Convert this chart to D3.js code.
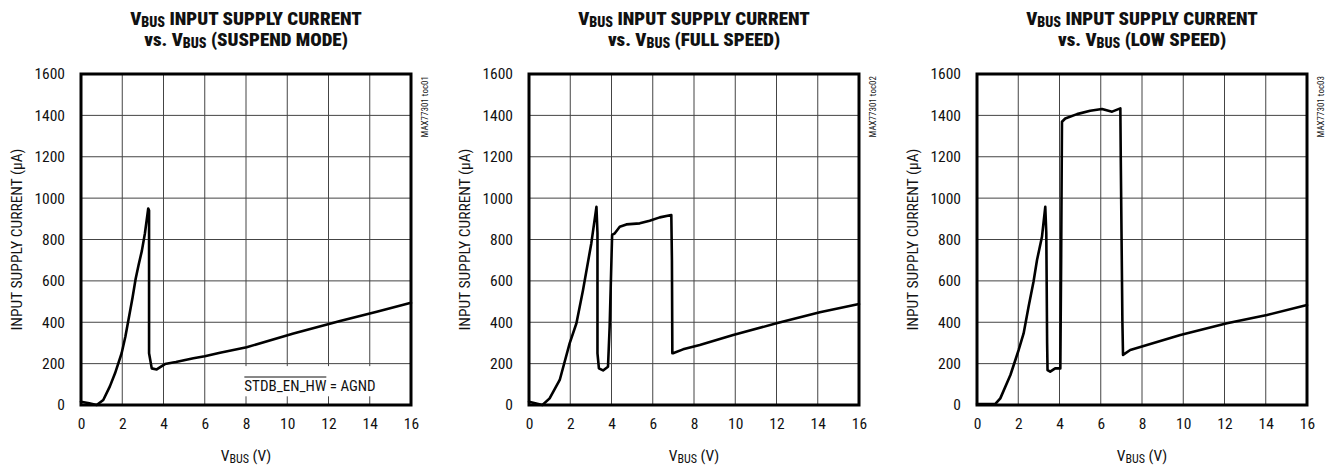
<!DOCTYPE html>
<html>
<head>
<meta charset="utf-8">
<script src="https://cdn.jsdelivr.net/npm/d3@7"></script>
<style>
  body { margin: 0; background: #fff; }
  svg text { font-family: "Liberation Sans Narrow", "Arial Narrow", "Roboto Condensed", "DejaVu Sans Condensed", sans-serif; fill: #111; }
</style>
</head>
<body>
<svg width="1328" height="466"></svg>
<script>
// data, [VBUS (V), current (uA)]
var suspendCurve = [[0,16],[0.4,8],[0.76,0],[1.08,24],[1.4,90],[1.65,153],[1.97,250],[2.15,330],[2.3,411],
  [2.5,520],[2.65,610],[2.8,680],[2.95,745],[3.1,830],[3.22,920],[3.26,950],[3.3,940],[3.3,250],[3.43,177],
  [3.67,172],[4.07,198],[4.6,208],[5.45,226],[6.0,236],[6.74,253],[8.03,279],[10.3,346],[12.56,406],
  [14.34,451],[16,494]];

var fullCurve = [[0,16],[0.65,0],[1.0,32],[1.49,121],[1.97,298],[2.3,395],[2.62,556],[3.02,781],[3.27,958],
  [3.32,830],[3.32,250],[3.39,177],[3.59,167],[3.83,185],[3.91,378],[4.03,822],[4.16,830],[4.4,862],[4.72,873],
  [5.37,878],[5.85,891],[6.34,907],[6.9,918],[6.93,700],[6.95,250],[6.98,250],[7.47,269],[8.28,290],[9.9,338],
  [12.0,395],[14.1,448],[16,488]];

var lowCurve = [[0,5],[0.89,5],[1.13,32],[1.62,145],[2.02,266],[2.26,346],[2.5,475],[2.74,596],[2.91,701],
  [3.15,813],[3.31,958],[3.36,830],[3.4,300],[3.42,169],[3.55,161],[3.79,177],[4.04,177],[4.08,700],[4.12,1369],
  [4.28,1385],[4.85,1406],[5.49,1422],[6.06,1431],[6.55,1418],[6.95,1434],[6.97,1200],[7.05,400],[7.08,242],
  [7.43,266],[8.24,290],[9.86,338],[12.12,395],[14.06,435],[16,483]];

var xTicks = [0,2,4,6,8,10,12,14,16];
var yTicks = [0,200,400,600,800,1000,1200,1400,1600];
var modes = ["SUSPEND MODE", "FULL SPEED", "LOW SPEED"];
var tocs = ["MAX77301 toc01", "MAX77301 toc02", "MAX77301 toc03"];
var curves = [suspendCurve, fullCurve, lowCurve];

var svg = d3.select("svg");
var pw = 330, ph = 331, plotTop = 74;
var lefts = [81, 529, 977];

curves.forEach(function(curve, i) {
  var left = lefts[i];
  var x = d3.scaleLinear().domain([0, 16]).range([left, left + pw]);
  var y = d3.scaleLinear().domain([0, 1600]).range([plotTop + ph, plotTop]);
  var g = svg.append("g");

  // grid
  g.append("g").selectAll("line").data(xTicks.slice(1, -1)).enter().append("line")
    .attr("x1", function(d) { return x(d); }).attr("x2", function(d) { return x(d); })
    .attr("y1", plotTop).attr("y2", plotTop + ph)
    .attr("stroke", "#444").attr("stroke-width", 1);
  g.append("g").selectAll("line").data(yTicks.slice(1, -1)).enter().append("line")
    .attr("y1", function(d) { return y(d); }).attr("y2", function(d) { return y(d); })
    .attr("x1", left).attr("x2", left + pw)
    .attr("stroke", "#444").attr("stroke-width", 1);

  // annotation on first chart, white box knocks out the grid
  if (i == 0) {
    g.append("rect")
      .attr("x", x(7.6)).attr("y", y(188))
      .attr("width", x(15.85) - x(7.6)).attr("height", y(42) - y(188))
      .attr("fill", "#fff");
    var ann = g.append("text").attr("x", x(7.92)).attr("y", 391).style("font-size", "15px");
    ann.append("tspan").text("STDB_EN_HW");
    ann.append("tspan").text(" = AGND");
    var w = ann.select("tspan").node().getComputedTextLength();
    g.append("line")
      .attr("x1", x(7.92)).attr("x2", x(7.92) + w)
      .attr("y1", 377).attr("y2", 377)
      .attr("stroke", "#111").attr("stroke-width", 1);
  }

  // curve
  var line = d3.line().x(function(d) { return x(d[0]); }).y(function(d) { return y(d[1]); });
  g.append("path").datum(curve).attr("d", line)
    .attr("fill", "none").attr("stroke", "#000").attr("stroke-width", 2.6)
    .attr("stroke-linejoin", "round").attr("stroke-linecap", "round");

  // frame
  g.append("rect").attr("x", left).attr("y", plotTop).attr("width", pw).attr("height", ph)
    .attr("fill", "none").attr("stroke", "#000").attr("stroke-width", 3);

  // axes (labels only)
  var xa = g.append("g").attr("transform", "translate(0," + (plotTop + ph + 10) + ")")
    .call(d3.axisBottom(x).tickValues(xTicks).tickSize(0).tickFormat(d3.format("d")));
  xa.select(".domain").remove();
  xa.selectAll("text").style("font-size", "15.5px").attr("dy", "0.71em").attr("fill", "#111");

  var ya = g.append("g").attr("transform", "translate(" + (left - 13) + ",0)")
    .call(d3.axisLeft(y).tickValues(yTicks).tickSize(0).tickFormat(d3.format("d")));
  ya.select(".domain").remove();
  ya.selectAll("text").style("font-size", "15.5px").attr("fill", "#111");

  // axis titles
  var xt = g.append("text").attr("x", left + pw / 2).attr("y", 461)
    .attr("text-anchor", "middle").style("font-size", "15.5px");
  xt.append("tspan").text("V");
  xt.append("tspan").attr("dy", 2).style("font-size", "12px").text("BUS");
  xt.append("tspan").attr("dy", -2).text(" (V)");

  g.append("text")
    .attr("transform", "translate(" + (left - 59) + "," + (plotTop + ph / 2) + ") rotate(-90)")
    .attr("text-anchor", "middle").style("font-size", "15.5px")
    .text("INPUT SUPPLY CURRENT (\u00B5A)");

  // side id
  g.append("text")
    .attr("transform", "translate(" + (left + pw + 17) + "," + (plotTop + 2) + ") rotate(-90)")
    .attr("text-anchor", "end").style("font-size", "9px").attr("fill", "#333")
    .text(tocs[i]);

  // title
  var t1 = g.append("text").attr("x", left + pw / 2).attr("y", 25)
    .attr("text-anchor", "middle").style("font-size", "19px").style("font-weight", "900");
  t1.append("tspan").text("V");
  t1.append("tspan").attr("dy", 2).style("font-size", "14px").text("BUS");
  t1.append("tspan").attr("dy", -2).text(" INPUT SUPPLY CURRENT");
  var t2 = g.append("text").attr("x", left + pw / 2).attr("y", 46)
    .attr("text-anchor", "middle").style("font-size", "19px").style("font-weight", "900");
  t2.append("tspan").text("vs. V");
  t2.append("tspan").attr("dy", 2).style("font-size", "14px").text("BUS");
  t2.append("tspan").attr("dy", -2).text(" (" + modes[i] + ")");
});
</script>
</body>
</html>
